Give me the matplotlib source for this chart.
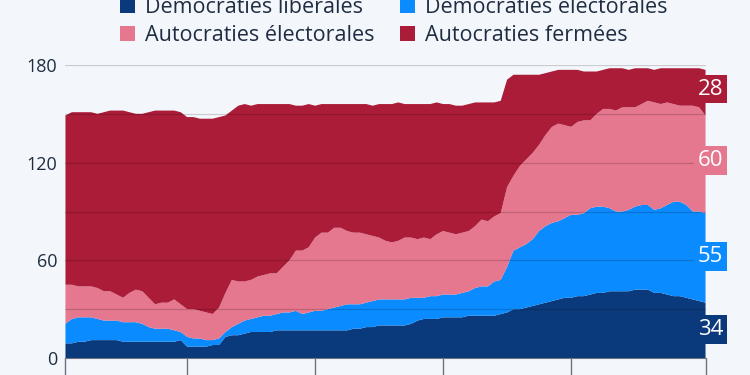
import matplotlib
matplotlib.use("Agg")
import matplotlib.pyplot as plt
import numpy as np

plt.rcParams['font.family'] = ['Open Sans', 'DejaVu Sans']

years = list(range(1921, 2022))

# number of countries per regime type
dem_lib = [9, 9, 10, 10, 11, 11, 11, 11, 11, 10,
           10, 10, 10, 10, 10, 10, 10, 10, 11, 7,
           7, 7, 7, 8, 8, 13, 14, 14, 15, 16,
           16, 16, 16, 17, 17, 17, 17, 17, 17, 17,
           17, 17, 17, 17, 17, 18, 18, 19, 19, 20,
           20, 20, 20, 20, 21, 23, 24, 24, 24, 25,
           25, 25, 25, 26, 26, 26, 26, 26, 27, 28,
           30, 30, 31, 32, 33, 34, 35, 36, 37, 37,
           38, 38, 39, 40, 40, 41, 41, 41, 41, 42,
           42, 42, 40, 40, 39, 38, 38, 37, 36, 35,
           34]
dem_elec = [12, 15, 15, 15, 14, 13, 12, 12, 12, 12,
            12, 12, 11, 9, 8, 8, 8, 7, 5, 6,
            5, 5, 4, 3, 4, 3, 5, 7, 8, 8,
            9, 10, 10, 10, 11, 11, 12, 10, 11, 12,
            12, 13, 14, 15, 16, 15, 15, 15, 16, 16,
            16, 16, 16, 16, 16, 14, 13, 14, 14, 14,
            14, 14, 15, 15, 17, 18, 18, 21, 21, 28,
            36, 38, 39, 41, 45, 47, 48, 48, 49, 51,
            50, 51, 53, 53, 53, 51, 49, 49, 50, 51,
            52, 52, 51, 52, 55, 58, 58, 57, 54, 55,
            55]
auto_elec = [24, 21, 19, 19, 19, 19, 18, 18, 16, 15,
             18, 20, 20, 18, 15, 16, 16, 19, 17, 17,
             18, 17, 17, 16, 19, 24, 29, 26, 24, 24,
             25, 25, 26, 25, 28, 32, 37, 39, 40, 45,
             48, 47, 49, 48, 45, 44, 44, 42, 40, 38,
             36, 35, 36, 38, 37, 36, 37, 35, 38, 39,
             38, 37, 37, 37, 38, 41, 40, 40, 41, 49,
             46, 50, 52, 53, 53, 56, 59, 60, 57, 54,
             57, 57, 54, 57, 60, 61, 62, 64, 63, 61,
             62, 64, 66, 64, 63, 60, 59, 61, 65, 64,
             60]
auto_closed = [104, 106, 107, 107, 107, 107, 110, 111, 113, 115,
               111, 108, 109, 114, 119, 118, 118, 116, 118, 118,
               118, 118, 119, 120, 117, 109, 104, 108, 109, 107,
               106, 105, 104, 104, 100, 96, 89, 89, 88, 81,
               79, 79, 76, 76, 78, 79, 79, 80, 80, 82,
               84, 85, 85, 82, 82, 83, 82, 83, 81, 78,
               79, 79, 78, 78, 76, 72, 73, 70, 69, 66,
               62, 56, 52, 48, 43, 38, 34, 33, 34, 35,
               32, 30, 30, 26, 24, 25, 26, 24, 23, 24,
               22, 20, 20, 22, 21, 22, 23, 23, 23, 24,
               28]

labels = ["Démocraties libérales", "Démocraties électorales",
          "Autocraties électorales", "Autocraties fermées"]
colors = ["#0b3a7c", "#0a8bff", "#e5778f", "#ab1c38"]
series = [dem_lib, dem_elec, auto_elec, auto_closed]

bg = "#f3f6fa"
txt = "#1f2d42"

fig = plt.figure(figsize=(7.5, 3.75), dpi=100, facecolor=bg)
ax = fig.add_axes([0.0873, 0.0453, 0.8534, 0.7814], facecolor=bg)

polys = ax.stackplot(years, *series, colors=colors, linewidth=0)

ax.set_xlim(years[0], years[-1])
ax.set_ylim(0, 180)
ax.set_yticks(range(0, 181, 30))
ax.set_yticklabels(["0", "", "60", "", "120", "", "180"])
ax.set_xticks([1921, 1940, 1960, 1980, 2000, 2021])
ax.tick_params(axis='x', direction='out', length=12, width=1,
               color="#6b7380", labelbottom=False)
ax.tick_params(axis='y', length=0, pad=6, labelsize=13, labelcolor=txt)

ax.set_axisbelow(False)
ax.grid(axis='y', color='black', alpha=0.17, linewidth=0.9)
for s in ["left", "right", "top"]:
    ax.spines[s].set_visible(False)
ax.spines["bottom"].set_color("#6b7380")
ax.spines["bottom"].set_zorder(5)

# end-of-series value labels, centred on the band over the last years
arr = np.array(series)
tops = arr.cumsum(axis=0)
for i, col in enumerate(colors):
    mid = (tops[i, -3:] - arr[i, -3:] / 2).mean()
    ax.annotate(str(series[i][-1]), xy=(years[-1], mid),
                xytext=(5, 0), textcoords='offset pixels',
                ha='center', va='center', fontsize=16, color='white',
                bbox=dict(boxstyle='square,pad=0.17', fc=col, ec='none'),
                annotation_clip=False, zorder=10)

order = [0, 2, 1, 3]
fig.legend([polys[i] for i in order], [labels[i] for i in order],
           ncol=2, loc='upper left', bbox_to_anchor=(0.16, 1.008),
           frameon=False, fontsize=15.5, labelcolor=txt, borderpad=0,
           borderaxespad=0, handlelength=0.7, handleheight=0.7,
           handletextpad=0.45, columnspacing=1.2, labelspacing=0.34)

fig.savefig("out.png", dpi=100, facecolor=bg)
